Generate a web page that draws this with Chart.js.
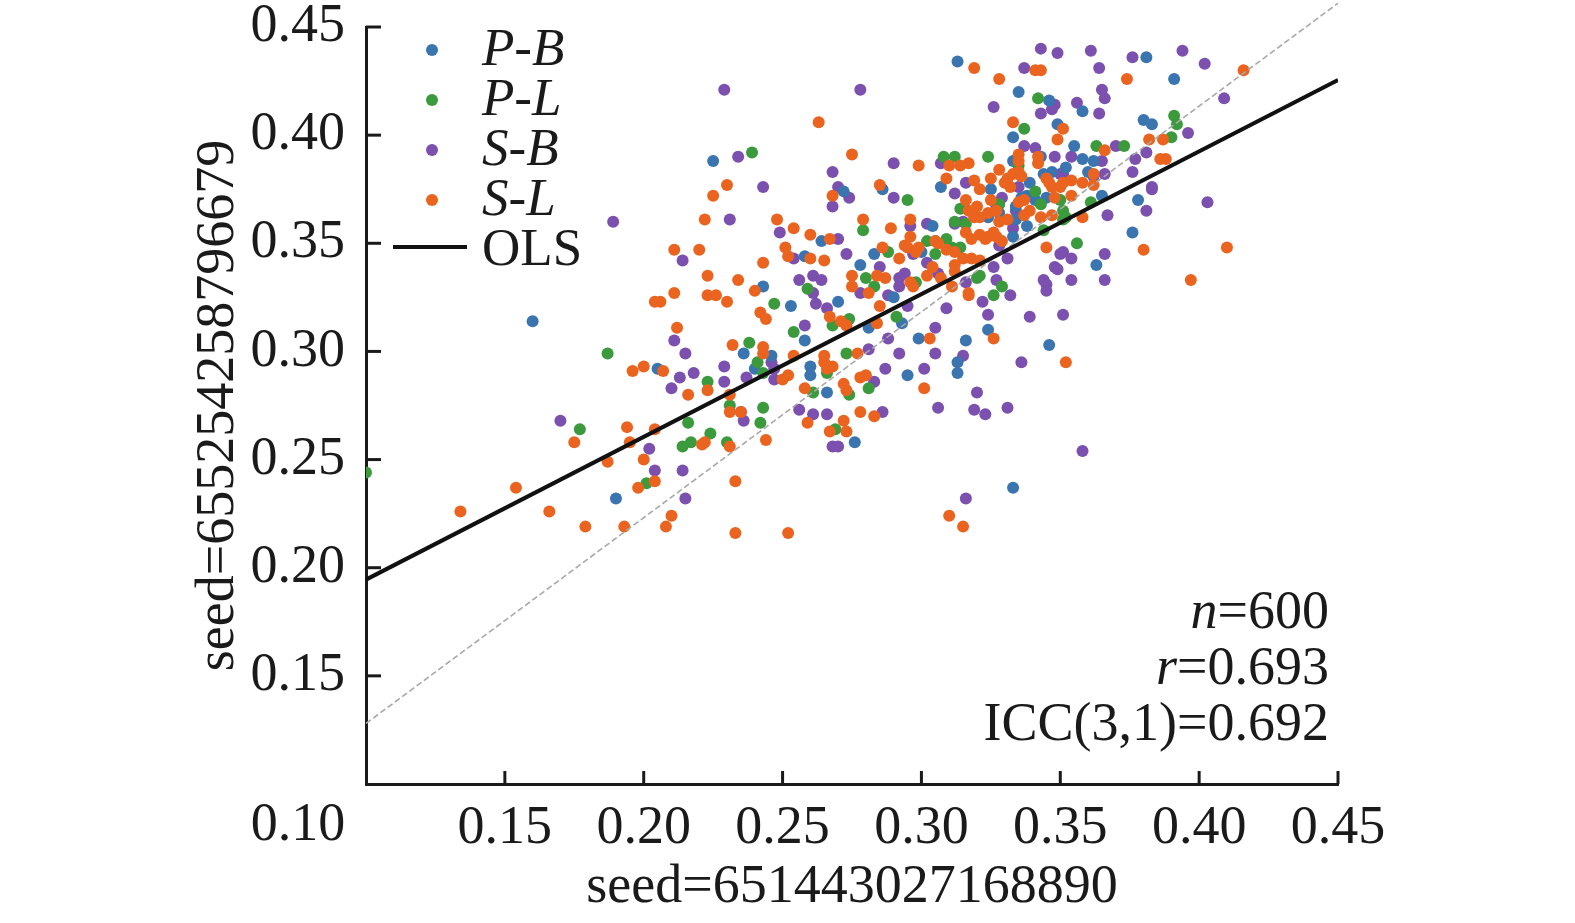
<!DOCTYPE html>
<html>
<head>
<meta charset="utf-8">
<script src="https://cdn.jsdelivr.net/npm/chart.js@4.4.0/dist/chart.umd.min.js"></script>
<style>
  html, body { margin: 0; padding: 0; background: #fff; }
  #wrap { width: 1575px; height: 923px; position: relative; }
</style>
</head>
<body>
<div id="wrap"><canvas id="scatter"></canvas></div>
<script>
// --- Data ---
const seriesNames = ['P-B', 'P-L', 'S-B', 'S-L'];
const seriesColors = ['#3a75b0', '#3a9a3c', '#7b50ae', '#ea6420'];

const pbPoints = [[0.313,0.434],[0.225,0.388],[0.307,0.376],[0.363,0.454],[0.381,0.436],[0.391,0.426],[0.335,0.420],[0.346,0.416],[0.358,0.411],[0.380,0.407],[0.383,0.405],[0.349,0.405],[0.333,0.399],[0.355,0.395],[0.358,0.389],[0.362,0.388],[0.343,0.390],[0.333,0.388],[0.344,0.382],[0.339,0.378],[0.286,0.375],[0.272,0.374],[0.304,0.358],[0.264,0.351],[0.305,0.351],[0.258,0.344],[0.283,0.345],[0.300,0.346],[0.278,0.340],[0.243,0.330],[0.253,0.321],[0.270,0.323],[0.290,0.325],[0.281,0.311],[0.299,0.306],[0.258,0.305],[0.293,0.313],[0.160,0.314],[0.205,0.292],[0.190,0.232],[0.236,0.299],[0.246,0.298],[0.240,0.292],[0.260,0.293],[0.260,0.289],[0.266,0.281],[0.276,0.258],[0.295,0.289],[0.313,0.295],[0.313,0.290],[0.378,0.370],[0.376,0.355],[0.363,0.340],[0.365,0.372],[0.324,0.310],[0.316,0.305],[0.346,0.303],[0.333,0.237],[0.325,0.375],[0.345,0.371],[0.336,0.371],[0.324,0.362],[0.334,0.361],[0.333,0.353],[0.338,0.358],[0.352,0.385],[0.328,0.364],[0.334,0.367],[0.347,0.383],[0.338,0.372],[0.341,0.370],[0.360,0.383]];

const plPoints = [[0.239,0.392],[0.312,0.390],[0.308,0.390],[0.342,0.417],[0.391,0.409],[0.392,0.405],[0.390,0.399],[0.337,0.403],[0.363,0.395],[0.373,0.395],[0.324,0.390],[0.295,0.370],[0.279,0.356],[0.312,0.360],[0.302,0.351],[0.309,0.352],[0.288,0.346],[0.305,0.345],[0.311,0.348],[0.259,0.329],[0.280,0.334],[0.283,0.330],[0.298,0.332],[0.291,0.316],[0.274,0.315],[0.247,0.322],[0.238,0.304],[0.254,0.309],[0.268,0.312],[0.187,0.299],[0.177,0.264],[0.201,0.239],[0.100,0.244],[0.241,0.295],[0.243,0.290],[0.223,0.286],[0.231,0.275],[0.243,0.274],[0.242,0.267],[0.216,0.267],[0.224,0.262],[0.217,0.258],[0.214,0.256],[0.230,0.258],[0.266,0.290],[0.261,0.281],[0.274,0.280],[0.273,0.299],[0.281,0.283],[0.269,0.264],[0.356,0.350],[0.351,0.361],[0.361,0.369],[0.329,0.330],[0.326,0.326],[0.320,0.334],[0.316,0.359],[0.314,0.348],[0.328,0.368],[0.341,0.374],[0.343,0.368],[0.335,0.382],[0.350,0.370],[0.351,0.365],[0.344,0.356],[0.314,0.366],[0.352,0.362],[0.321,0.335],[0.335,0.386]];

const sbPoints = [[0.189,0.360],[0.229,0.421],[0.278,0.421],[0.234,0.390],[0.268,0.383],[0.290,0.387],[0.307,0.387],[0.243,0.376],[0.270,0.376],[0.343,0.440],[0.349,0.438],[0.361,0.439],[0.376,0.436],[0.394,0.439],[0.402,0.433],[0.337,0.431],[0.364,0.431],[0.365,0.421],[0.366,0.417],[0.348,0.414],[0.347,0.412],[0.356,0.415],[0.326,0.413],[0.343,0.410],[0.364,0.410],[0.409,0.417],[0.396,0.401],[0.337,0.395],[0.370,0.395],[0.341,0.394],[0.348,0.390],[0.354,0.390],[0.365,0.388],[0.377,0.389],[0.381,0.392],[0.376,0.383],[0.351,0.382],[0.366,0.382],[0.316,0.378],[0.383,0.376],[0.274,0.371],[0.290,0.371],[0.312,0.373],[0.268,0.367],[0.231,0.361],[0.296,0.358],[0.302,0.359],[0.312,0.359],[0.249,0.355],[0.270,0.352],[0.214,0.342],[0.254,0.343],[0.273,0.345],[0.297,0.345],[0.302,0.341],[0.285,0.339],[0.256,0.333],[0.261,0.335],[0.264,0.333],[0.261,0.327],[0.262,0.322],[0.278,0.327],[0.288,0.326],[0.292,0.334],[0.294,0.336],[0.292,0.330],[0.295,0.321],[0.306,0.336],[0.309,0.320],[0.266,0.320],[0.211,0.305],[0.258,0.312],[0.288,0.306],[0.305,0.311],[0.170,0.268],[0.202,0.255],[0.204,0.245],[0.215,0.299],[0.246,0.295],[0.247,0.292],[0.213,0.288],[0.218,0.290],[0.229,0.293],[0.237,0.288],[0.229,0.286],[0.210,0.283],[0.247,0.287],[0.235,0.272],[0.236,0.268],[0.214,0.245],[0.215,0.232],[0.281,0.301],[0.283,0.286],[0.287,0.292],[0.292,0.299],[0.301,0.292],[0.305,0.299],[0.306,0.274],[0.256,0.273],[0.261,0.271],[0.266,0.271],[0.286,0.272],[0.268,0.256],[0.270,0.256],[0.403,0.369],[0.381,0.365],[0.383,0.375],[0.367,0.363],[0.366,0.345],[0.366,0.333],[0.354,0.333],[0.351,0.346],[0.350,0.345],[0.354,0.343],[0.348,0.339],[0.349,0.338],[0.344,0.333],[0.345,0.331],[0.345,0.328],[0.339,0.316],[0.351,0.317],[0.332,0.326],[0.327,0.333],[0.322,0.323],[0.324,0.317],[0.316,0.332],[0.326,0.339],[0.331,0.343],[0.362,0.381],[0.336,0.295],[0.315,0.298],[0.320,0.281],[0.319,0.273],[0.323,0.271],[0.331,0.274],[0.358,0.254],[0.316,0.232],[0.329,0.371],[0.334,0.365],[0.333,0.357],[0.327,0.367],[0.315,0.360],[0.350,0.382],[0.328,0.349],[0.335,0.376]];

const slPoints = [[0.263,0.406],[0.275,0.391],[0.299,0.386],[0.310,0.386],[0.309,0.380],[0.230,0.377],[0.285,0.377],[0.416,0.430],[0.374,0.426],[0.319,0.431],[0.328,0.426],[0.341,0.430],[0.343,0.430],[0.387,0.398],[0.382,0.398],[0.333,0.406],[0.351,0.403],[0.349,0.398],[0.366,0.393],[0.335,0.391],[0.335,0.388],[0.342,0.390],[0.342,0.387],[0.386,0.389],[0.388,0.389],[0.317,0.387],[0.314,0.386],[0.362,0.382],[0.328,0.384],[0.325,0.380],[0.319,0.379],[0.346,0.378],[0.354,0.379],[0.358,0.378],[0.333,0.382],[0.225,0.372],[0.268,0.372],[0.222,0.361],[0.248,0.361],[0.279,0.361],[0.289,0.357],[0.296,0.361],[0.254,0.357],[0.260,0.354],[0.267,0.352],[0.296,0.353],[0.211,0.347],[0.220,0.347],[0.251,0.348],[0.252,0.344],[0.260,0.343],[0.265,0.342],[0.243,0.341],[0.286,0.348],[0.292,0.343],[0.295,0.348],[0.299,0.348],[0.306,0.350],[0.309,0.347],[0.312,0.340],[0.223,0.335],[0.234,0.333],[0.240,0.328],[0.211,0.327],[0.206,0.323],[0.223,0.326],[0.226,0.326],[0.230,0.323],[0.275,0.335],[0.275,0.330],[0.281,0.327],[0.284,0.335],[0.287,0.334],[0.285,0.321],[0.297,0.330],[0.302,0.335],[0.307,0.334],[0.311,0.330],[0.242,0.318],[0.244,0.315],[0.267,0.316],[0.271,0.314],[0.212,0.311],[0.232,0.303],[0.284,0.313],[0.303,0.306],[0.273,0.312],[0.204,0.323],[0.196,0.291],[0.200,0.293],[0.175,0.258],[0.194,0.265],[0.195,0.258],[0.204,0.264],[0.200,0.250],[0.187,0.249],[0.204,0.240],[0.198,0.237],[0.154,0.237],[0.134,0.226],[0.166,0.226],[0.179,0.219],[0.193,0.219],[0.243,0.302],[0.243,0.299],[0.254,0.298],[0.207,0.291],[0.223,0.282],[0.216,0.280],[0.231,0.280],[0.250,0.287],[0.252,0.289],[0.231,0.272],[0.235,0.272],[0.221,0.257],[0.222,0.258],[0.231,0.256],[0.244,0.259],[0.233,0.240],[0.210,0.224],[0.208,0.219],[0.233,0.216],[0.252,0.216],[0.310,0.224],[0.265,0.298],[0.265,0.295],[0.266,0.292],[0.268,0.293],[0.258,0.283],[0.272,0.285],[0.273,0.282],[0.277,0.299],[0.278,0.288],[0.280,0.289],[0.301,0.283],[0.259,0.267],[0.272,0.268],[0.278,0.272],[0.283,0.270],[0.267,0.263],[0.273,0.263],[0.410,0.348],[0.380,0.347],[0.397,0.333],[0.345,0.348],[0.358,0.362],[0.326,0.306],[0.352,0.295],[0.315,0.219],[0.317,0.326],[0.321,0.375],[0.330,0.378],[0.332,0.376],[0.336,0.381],[0.347,0.376],[0.351,0.378],[0.316,0.370],[0.317,0.365],[0.319,0.362],[0.324,0.364],[0.327,0.365],[0.328,0.360],[0.326,0.355],[0.321,0.354],[0.318,0.352],[0.324,0.353],[0.315,0.343],[0.318,0.343],[0.321,0.342],[0.329,0.351],[0.335,0.369],[0.339,0.365],[0.343,0.362],[0.347,0.363],[0.348,0.371],[0.354,0.372],[0.325,0.370],[0.331,0.380],[0.335,0.383],[0.345,0.380],[0.350,0.376],[0.362,0.377],[0.320,0.367],[0.321,0.362],[0.331,0.361],[0.337,0.363],[0.294,0.349],[0.298,0.346],[0.305,0.351],[0.312,0.346],[0.316,0.355],[0.323,0.352],[0.327,0.353],[0.304,0.339],[0.312,0.337],[0.296,0.332],[0.317,0.327],[0.337,0.370]];

// fitted line and the light dashed reference line (end points)
const olsX = [0.10, 0.45];
const olsY = [0.1945, 0.4255];
const refX = [0.10, 0.45];
const refY = [0.128, 0.461];

const xTicks = [0.10, 0.15, 0.20, 0.25, 0.30, 0.35, 0.40, 0.45];
const yTicks = [0.10, 0.15, 0.20, 0.25, 0.30, 0.35, 0.40, 0.45];
const xTitle = 'seed=651443027168890';
const yTitle = 'seed=655254258796679';

// annotation lines: [text, italic?] runs
const statLines = [
	[['n', true], ['=600', false]],
	[['r', true], ['=0.693', false]],
	[['ICC(3,1)=0.692', false]]
];

// --- Styling ---
const serif = "'Liberation Serif', 'Times New Roman', serif";
const ink = '#1a1a1a';
const bigFont = { family: serif, size: 54 };

const toXY = pts => pts.map(p => ({ x: p[0], y: p[1] }));
const pointSets = [pbPoints, plPoints, sbPoints, slPoints];
const drawOrder = [4, 3, 5, 2];

const datasets = pointSets.map((pts, i) => ({
	type: 'scatter',
	label: seriesNames[i],
	data: toXY(pts),
	backgroundColor: seriesColors[i],
	borderColor: seriesColors[i],
	borderWidth: 0,
	pointRadius: 6,
	order: drawOrder[i],
	clip: { left: 0, top: false, right: false, bottom: 0 }
}));

datasets.push({
	type: 'line',
	label: 'ref',
	data: refX.map((v, i) => ({ x: v, y: refY[i] })),
	borderColor: '#a8a8a8',
	borderWidth: 1.6,
	borderDash: [6, 3],
	pointRadius: 0,
	order: 1,
	clip: false
});
datasets.push({
	type: 'line',
	label: 'OLS',
	data: olsX.map((v, i) => ({ x: v, y: olsY[i] })),
	borderColor: '#111',
	borderWidth: 4,
	pointRadius: 0,
	order: 0
});

// --- Extra drawing: inward ticks, stray 0.10 label, legend, stats ---
const decor = {
	id: 'decor',
	afterDraw(chart) {
		const { ctx, scales: { x, y } } = chart;
		ctx.save();

		ctx.strokeStyle = ink;
		ctx.lineWidth = 3;
		yTicks.forEach(v => {
			if (v < 0.11) return;
			const py = y.getPixelForValue(v);
			ctx.beginPath(); ctx.moveTo(x.left, py); ctx.lineTo(x.left + 15, py); ctx.stroke();
		});
		xTicks.forEach(v => {
			if (v < 0.11) return;
			const px = x.getPixelForValue(v);
			ctx.beginPath(); ctx.moveTo(px, y.bottom); ctx.lineTo(px, y.bottom - 13); ctx.stroke();
		});

		ctx.fillStyle = ink;
		ctx.font = `54px ${serif}`;
		ctx.textAlign = 'center';
		ctx.textBaseline = 'middle';
		ctx.fillText('0.10', x.getPixelForValue(0.10) - 68, 826);

		// legend
		ctx.textAlign = 'left';
		ctx.textBaseline = 'alphabetic';
		seriesNames.forEach((name, i) => {
			const cy = 50 + 50 * i;
			ctx.fillStyle = seriesColors[i];
			ctx.beginPath(); ctx.arc(432, cy, 6, 0, Math.PI * 2); ctx.fill();
			ctx.fillStyle = ink;
			ctx.font = `italic 53px ${serif}`;
			ctx.fillText(name, 482, 65 + 50 * i);
		});
		ctx.strokeStyle = '#111';
		ctx.lineWidth = 4;
		ctx.beginPath(); ctx.moveTo(393, 247); ctx.lineTo(467, 247); ctx.stroke();
		ctx.font = `53px ${serif}`;
		ctx.fillText('OLS', 482, 265);

		// stats, right aligned
		const right = 1329;
		statLines.forEach((runs, i) => {
			const base = 628 + 56 * i;
			const widths = runs.map(r => {
				ctx.font = `${r[1] ? 'italic ' : ''}54px ${serif}`;
				return ctx.measureText(r[0]).width;
			});
			let cx = right - widths.reduce((a, b) => a + b, 0);
			runs.forEach((r, k) => {
				ctx.font = `${r[1] ? 'italic ' : ''}54px ${serif}`;
				ctx.fillText(r[0], cx, base);
				cx += widths[k];
			});
		});
		ctx.restore();
	}
};

const fmtTick = v => (v < 0.11 ? '' : v.toFixed(2));

new Chart(document.getElementById('scatter'), {
	type: 'scatter',
	data: { datasets: datasets },
	options: {
		responsive: true,
		maintainAspectRatio: false,
		animation: false,
		layout: { padding: { left: 0, right: 237, top: 27, bottom: 0 } },
		plugins: { legend: { display: false }, tooltip: { enabled: false } },
		scales: {
			x: {
				type: 'linear',
				min: 0.10,
				max: 0.45,
				afterBuildTicks: s => { s.ticks = xTicks.map(v => ({ value: v })); },
				afterFit: s => { s.height = 139; s.paddingLeft = 0; s.paddingRight = 0; },
				ticks: { font: bigFont, color: ink, padding: 12, maxRotation: 0, autoSkip: false, callback: fmtTick },
				grid: { display: false, drawTicks: false },
				border: { display: true, color: ink, width: 3 },
				title: { display: true, text: xTitle, font: bigFont, color: ink, padding: { top: 0, bottom: 3 } }
			},
			y: {
				type: 'linear',
				min: 0.10,
				max: 0.45,
				afterBuildTicks: s => { s.ticks = yTicks.map(v => ({ value: v })); },
				afterFit: s => { s.width = 366; s.paddingTop = 0; s.paddingBottom = 0; },
				ticks: { font: bigFont, color: ink, padding: 21, autoSkip: false, callback: fmtTick },
				grid: { display: false, drawTicks: false },
				border: { display: true, color: ink, width: 3 },
				title: { display: true, text: yTitle, font: bigFont, color: ink, padding: { top: 186, bottom: 0 } }
			}
		}
	},
	plugins: [decor]
});
</script>
</body>
</html>
